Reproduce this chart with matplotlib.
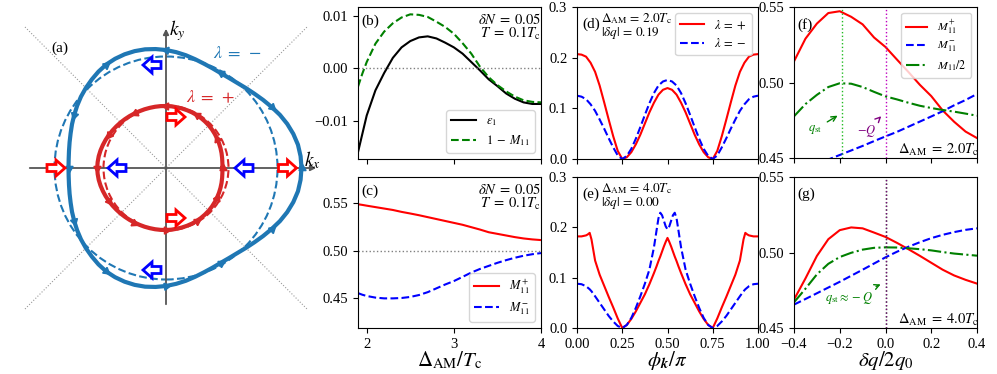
import numpy as np
import matplotlib.pyplot as plt
from matplotlib.patches import Circle, FancyArrow

plt.rcParams['font.family'] = 'serif'
plt.rcParams['font.serif'] = ['Liberation Serif', 'DejaVu Serif']
plt.rcParams['mathtext.fontset'] = 'stix'
plt.rcParams['font.size'] = 10.5

# ---------------- data ----------------
# (a) Fermi contours: radius vs polar angle (deg), units of 100 px
phi_deg = np.arange(0, 360, 5)
r_minus = [1.355, 1.351, 1.34, 1.318, 1.29, 1.257, 1.22, 1.186, 1.155, 1.13,
           1.11, 1.099, 1.095, 1.10, 1.11, 1.126, 1.145, 1.163, 1.18, 1.194,
           1.205, 1.21, 1.21, 1.205, 1.195, 1.177, 1.155, 1.133, 1.11, 1.085,
           1.06, 1.037, 1.015, 0.998, 0.985, 0.977, 0.975, 0.977, 0.985, 0.998,
           1.015, 1.037, 1.06, 1.085, 1.11, 1.133, 1.155, 1.177, 1.195, 1.205,
           1.21, 1.21, 1.205, 1.194, 1.18, 1.163, 1.145, 1.126, 1.11, 1.10,
           1.095, 1.099, 1.11, 1.13, 1.155, 1.186, 1.22, 1.257, 1.29, 1.318,
           1.34, 1.351]
r_plus = [0.565, 0.566, 0.57, 0.575, 0.58, 0.585, 0.59, 0.595, 0.60, 0.604,
          0.607, 0.61, 0.612, 0.614, 0.615, 0.616, 0.617, 0.619, 0.62, 0.621,
          0.622, 0.623, 0.625, 0.627, 0.63, 0.634, 0.638, 0.643, 0.648, 0.654,
          0.66, 0.666, 0.672, 0.678, 0.683, 0.686, 0.688, 0.686, 0.683, 0.678,
          0.672, 0.666, 0.66, 0.654, 0.648, 0.643, 0.638, 0.634, 0.63, 0.627,
          0.625, 0.623, 0.622, 0.621, 0.62, 0.619, 0.617, 0.616, 0.615, 0.614,
          0.612, 0.61, 0.607, 0.604, 0.60, 0.595, 0.59, 0.585, 0.58, 0.575,
          0.57, 0.566]
r_circle_minus = 1.115
r_circle_plus = 0.625
# arrow heads on contours: angle -> direction (+1 ccw, -1 cw)
arrows_minus = {0: 1, 30: -1, 60: 1, 90: 1, 120: -1, 150: 1, 180: 1,
                210: 1, 240: 1, 270: 1, 300: 1, 330: 1}
arrows_plus = {0: 1, 30: 1, 60: 1, 90: 1, 120: 1, 150: 1, 180: 1,
               210: 1, 240: 1, 270: 1, 300: 1, 330: 1}
# hollow arrows (center x, center y)
hollow_red = [(-1.10, 0.0), (0.10, 0.51), (0.10, -0.50), (1.215, 0.0)]
hollow_blue = [(-0.14, 1.03), (-0.49, 0.0), (0.78, 0.0), (-0.14, -1.02)]

# (b), (c) vs Delta_AM / Tc
dam = [1.9, 1.95, 2.0, 2.1, 2.2, 2.3, 2.4, 2.5, 2.6, 2.7, 2.8, 2.9, 3.0,
       3.1, 3.2, 3.3, 3.4, 3.5, 3.6, 3.7, 3.8, 3.9, 4.0]
eps1 = [-0.0160, -0.0125, -0.0090, -0.0042, -0.0009, 0.0020, 0.0040, 0.0052,
        0.0059, 0.0061, 0.0057, 0.0049, 0.0040, 0.0028, 0.0012, -0.0004,
        -0.0021, -0.0034, -0.0048, -0.0058, -0.0065, -0.0068, -0.0068]
one_m11 = [-0.0035, -0.0010, 0.0012, 0.0047, 0.0070, 0.0086, 0.0097, 0.0103,
           0.0102, 0.0098, 0.0089, 0.0079, 0.0066, 0.0048, 0.0028, 0.0003,
           -0.0017, -0.0032, -0.0044, -0.0054, -0.0061, -0.0064, -0.0065]
m11p_c = [0.5485, 0.5478, 0.5470, 0.5455, 0.5440, 0.5425, 0.5405, 0.5388,
          0.5370, 0.5350, 0.5330, 0.5310, 0.5290, 0.5270, 0.5245, 0.5220,
          0.5192, 0.5175, 0.5158, 0.5141, 0.5127, 0.5117, 0.5110]
m11m_c = [0.4555, 0.4538, 0.4525, 0.4508, 0.4500, 0.4500, 0.4504, 0.4515,
          0.4535, 0.4565, 0.4605, 0.4645, 0.4681, 0.4725, 0.4770, 0.4808,
          0.4840, 0.4872, 0.4900, 0.4925, 0.4946, 0.4962, 0.4974]

# (d) phi_k / pi, Delta_AM = 2.0 Tc
phi_d = np.linspace(0, 1, 41)
d_plus = [0.207, 0.206, 0.202, 0.190, 0.172, 0.145, 0.112, 0.078, 0.045, 0.016,
          0.000, 0.0034, 0.0134, 0.0289, 0.048, 0.070, 0.092, 0.111, 0.127,
          0.1366, 0.140, 0.1366, 0.127, 0.111, 0.092, 0.070, 0.048, 0.0289,
          0.0134, 0.0034, 0.000, 0.016, 0.045, 0.078, 0.112, 0.145, 0.172,
          0.190, 0.202, 0.206, 0.207]
d_minus = [0.125, 0.123, 0.118, 0.108, 0.095, 0.078, 0.060, 0.041, 0.023, 0.007,
           0.000, 0.006, 0.020, 0.040, 0.063, 0.087, 0.110, 0.130, 0.145,
           0.153, 0.156, 0.153, 0.145, 0.130, 0.110, 0.087, 0.063, 0.040,
           0.020, 0.006, 0.000, 0.007, 0.023, 0.041, 0.060, 0.078, 0.095,
           0.108, 0.118, 0.123, 0.125]

# (e) phi_k / pi, Delta_AM = 4.0 Tc
phi_e = [0, 0.025, 0.05, 0.06, 0.07, 0.08, 0.1, 0.125, 0.15, 0.175, 0.2, 0.225,
         0.25, 0.275, 0.3, 0.325, 0.35, 0.375, 0.4, 0.425, 0.44, 0.45, 0.46,
         0.47, 0.48, 0.49, 0.5, 0.51, 0.52, 0.53, 0.54, 0.55, 0.56, 0.575, 0.6,
         0.625, 0.65, 0.675, 0.7, 0.725, 0.75, 0.775, 0.8, 0.825, 0.85, 0.875,
         0.9, 0.92, 0.93, 0.94, 0.95, 0.975, 1.0]
e_plus = [0.182, 0.182, 0.184, 0.186, 0.189, 0.176, 0.134, 0.106, 0.084, 0.062,
          0.041, 0.019, 0.000, 0.006, 0.018, 0.033, 0.050, 0.067, 0.087, 0.109,
          0.123, 0.133, 0.142, 0.152, 0.162, 0.171, 0.179, 0.171, 0.162, 0.152,
          0.142, 0.133, 0.123, 0.109, 0.087, 0.067, 0.050, 0.033, 0.018, 0.006,
          0.000, 0.019, 0.041, 0.062, 0.084, 0.106, 0.134, 0.176, 0.189, 0.186,
          0.184, 0.182, 0.182]
e_minus = [0.088, 0.087, 0.083, 0.080, 0.077, 0.073, 0.063, 0.050, 0.037, 0.024,
           0.013, 0.004, 0.000, 0.006, 0.020, 0.040, 0.063, 0.088, 0.116, 0.160,
           0.195, 0.218, 0.229, 0.224, 0.213, 0.202, 0.196, 0.202, 0.213, 0.224,
           0.229, 0.218, 0.195, 0.160, 0.116, 0.088, 0.063, 0.040, 0.020, 0.006,
           0.000, 0.004, 0.013, 0.024, 0.037, 0.050, 0.063, 0.073, 0.077, 0.080,
           0.083, 0.087, 0.088]

# (f), (g) vs dq / 2q0
dq = np.linspace(-0.4, 0.4, 17)
f_plus = [0.514, 0.529, 0.539, 0.546, 0.5472, 0.5435, 0.5385, 0.5298, 0.5235,
          0.5152, 0.507, 0.4985, 0.491, 0.4815, 0.474, 0.4675, 0.4632]
f_minus = [0.442, 0.444, 0.4462, 0.449, 0.452, 0.455, 0.458, 0.4612, 0.4643,
           0.4673, 0.4707, 0.4741, 0.4775, 0.481, 0.4849, 0.4884, 0.4924]
f_half = [0.4776, 0.4857, 0.4918, 0.4970, 0.4995, 0.4992, 0.4970, 0.4938,
          0.4908, 0.4888, 0.4866, 0.4846, 0.4831, 0.4818, 0.4807, 0.4794, 0.4780]
g_plus = [0.4688, 0.4828, 0.4977, 0.5088, 0.5148, 0.5166, 0.5160, 0.5132,
          0.5103, 0.5064, 0.5022, 0.4978, 0.4932, 0.4886, 0.4848, 0.4819, 0.4794]
g_minus = [0.4655, 0.4692, 0.4730, 0.4768, 0.4806, 0.4846, 0.4886, 0.4927,
           0.4968, 0.5005, 0.5038, 0.5068, 0.5095, 0.5117, 0.5135, 0.5150, 0.5160]
g_half = [0.4670, 0.4760, 0.4855, 0.4925, 0.4970, 0.4998, 0.5019, 0.5031,
          0.5034, 0.5033, 0.5028, 0.5022, 0.5014, 0.5003, 0.4993, 0.4986, 0.4979]
q_st_f = -0.19
q_st_g = 0.0
minus_Q = 0.0

# ---------------- figure ----------------
W, H = 997, 374
fig = plt.figure(figsize=(W / 100, H / 100), dpi=100)


def add_ax(l, r, t, b):
    return fig.add_axes([l / W, 1 - b / H, (r - l) / W, (b - t) / H])


# ---- (a) ----
ax = add_ax(16, 326, 20, 330)
ax.set_xlim(-1.5, 1.6)
ax.set_ylim(-1.62, 1.48)
ax.axis('off')
guide = 1.41
ax.plot([-guide, guide], [-guide, guide], ls=':', color='#999999', lw=0.8)
ax.plot([-guide, guide], [guide, -guide], ls=':', color='#999999', lw=0.8)
ax.annotate('', xy=(1.53, 0), xytext=(-1.39, 0),
            arrowprops=dict(arrowstyle='-|>', color='#555555', lw=1.3, mutation_scale=8))
ax.annotate('', xy=(0, 1.42), xytext=(0, -1.39),
            arrowprops=dict(arrowstyle='-|>', color='#555555', lw=1.3, mutation_scale=8))
ax.text(0.11, 1.37, r'$k_y$', fontsize=14, ha='center', va='center')
ax.text(1.46, 0.08, r'$k_x$', fontsize=14, ha='center', va='center')
ax.text(-1.06, 1.20, '(a)', fontsize=11, ha='center', va='center')

th = np.deg2rad(phi_deg)
for r, circ_r, col, arr in [(r_minus, r_circle_minus, '#1f77b4', arrows_minus),
                             (r_plus, r_circle_plus, '#d62728', arrows_plus)]:
    r = np.array(r)
    x = np.append(r * np.cos(th), r[0])
    y = np.append(r * np.sin(th), 0)
    ax.add_patch(Circle((0, 0), circ_r, fill=False, ls='--', color=col, lw=1.5, zorder=2))
    ax.plot(x, y, color=col, lw=3, zorder=3, solid_joinstyle='round')
    n = len(r)
    for ang, sgn in arr.items():
        i = list(phi_deg).index(ang)
        tx = x[(i + 1) % n] - x[(i - 1) % n]
        ty = y[(i + 1) % n] - y[(i - 1) % n]
        rot = np.degrees(np.arctan2(sgn * ty, sgn * tx)) - 90
        ax.plot(x[i], y[i], marker=(3, 0, rot), color=col, ms=6, zorder=3)

for cx, cy in hollow_red:
    ax.add_patch(FancyArrow(cx - 0.09, cy, 0.18, 0, width=0.07, head_width=0.16,
                            head_length=0.09, length_includes_head=True,
                            fc='white', ec='red', lw=2, zorder=4))
for cx, cy in hollow_blue:
    ax.add_patch(FancyArrow(cx + 0.09, cy, -0.18, 0, width=0.07, head_width=0.16,
                            head_length=0.09, length_includes_head=True,
                            fc='white', ec='blue', lw=2, zorder=4))
ax.text(0.71, 1.15, r'$\lambda\;=\;-$', color='#1f77b4', fontsize=13, ha='center', va='center')
ax.text(0.45, 0.70, r'$\lambda\;=\;+$', color='#d62728', fontsize=13, ha='center', va='center')

params = r'$\delta N\;=\;0.05$' + '\n' + r'$T\;=\;0.1T_{\rm c}$'

# ---- (b) ----
ax = add_ax(358, 541, 7, 159)
ax.plot(dam, eps1, color='k', lw=1.5, label=r'$\epsilon_1$')
ax.plot(dam, one_m11, color='green', ls='--', lw=1.5, label=r'$1\;-\;M_{11}$')
ax.axhline(0, color='gray', ls=':', lw=1)
ax.set_xlim(1.9, 4.0)
ax.set_ylim(-0.0173, 0.0117)
ax.set_xticks([2, 3, 4])
ax.set_xticklabels([])
ax.set_yticks([-0.01, 0.0, 0.01])
ax.set_yticklabels(['\u22120.01', '0.00', '0.01'])
ax.text(0.02, 0.95, '(b)', transform=ax.transAxes, fontsize=11, va='top')
ax.text(1.0, 0.97, params, transform=ax.transAxes, fontsize=10.5, ha='right', va='top',
        linespacing=0.85)
ax.legend(loc='lower right', fontsize=9, labelspacing=0.4)

# ---- (c) ----
ax = add_ax(358, 541, 177, 328)
ax.plot(dam, m11p_c, color='red', lw=1.5, label=r'$M_{11}^{+}$')
ax.plot(dam, m11m_c, color='blue', ls='--', lw=1.5, label=r'$M_{11}^{-}$')
ax.axhline(0.5, color='gray', ls=':', lw=1)
ax.set_xlim(1.9, 4.0)
ax.set_ylim(0.419, 0.577)
ax.set_xticks([2, 3, 4])
ax.set_yticks([0.45, 0.50, 0.55])
ax.set_yticklabels(['0.45', '0.50', '0.55'])
ax.set_xlabel(r'$\Delta_{\rm AM}/T_{\rm c}$', fontsize=15, labelpad=-1)
ax.text(0.02, 0.95, '(c)', transform=ax.transAxes, fontsize=11, va='top')
ax.text(1.0, 0.97, params, transform=ax.transAxes, fontsize=10.5, ha='right', va='top',
        linespacing=0.85)
ax.legend(loc='lower right', fontsize=9, labelspacing=0.3)

# ---- (d) ----
ax = add_ax(577, 758, 7, 159)
ax.plot(phi_d, d_plus, color='red', lw=1.5, label=r'$\lambda\,=\,+$')
ax.plot(phi_d, d_minus, color='blue', ls='--', lw=1.5, label=r'$\lambda\,=\,-$')
ax.set_xlim(0, 1)
ax.set_ylim(0, 0.3)
ax.set_xticks([0, 0.25, 0.5, 0.75, 1.0])
ax.set_xticklabels([])
ax.set_yticks([0, 0.1, 0.2, 0.3])
ax.set_yticklabels(['0.0', '0.1', '0.2', '0.3'])
ax.text(0.03, 0.93, '(d)', transform=ax.transAxes, fontsize=11, va='top')
ax.text(0.13, 0.97, r'$\Delta_{\rm AM}\,=\,2.0T_{\rm c}$' + '\n' + r'$|\delta q|\,=\,0.19$',
        transform=ax.transAxes, fontsize=9.5, va='top', linespacing=0.85)
ax.legend(loc='upper right', fontsize=9, handlelength=1.9)

# ---- (e) ----
ax = add_ax(577, 758, 177, 328)
ax.plot(phi_e, e_plus, color='red', lw=1.5)
ax.plot(phi_e, e_minus, color='blue', ls='--', lw=1.5)
ax.set_xlim(0, 1)
ax.set_ylim(0, 0.3)
ax.set_xticks([0, 0.25, 0.5, 0.75, 1.0])
ax.set_xticklabels(['0.00', '0.25', '0.50', '0.75', '1.00'])
ax.set_yticks([0, 0.1, 0.2, 0.3])
ax.set_yticklabels(['0.0', '0.1', '0.2', '0.3'])
ax.set_xlabel(r'$\phi_{\boldsymbol{k}}/\pi$', fontsize=15, labelpad=-1)
ax.text(0.03, 0.93, '(e)', transform=ax.transAxes, fontsize=11, va='top')
ax.text(0.13, 0.97, r'$\Delta_{\rm AM}\,=\,4.0T_{\rm c}$' + '\n' + r'$|\delta q|\,=\,0.00$',
        transform=ax.transAxes, fontsize=9.5, va='top', linespacing=0.85)

# ---- (f) ----
ax = add_ax(794, 977, 7, 158)
ax.plot(dq, f_plus, color='red', lw=1.5, label=r'$M_{11}^{+}$')
ax.plot(dq, f_minus, color='blue', ls='--', lw=1.5, label=r'$M_{11}^{-}$')
ax.plot(dq, f_half, color='green', ls='-.', lw=1.5, label=r'$M_{11}/2$')
ax.axvline(q_st_f, color='#22bb22', ls=':', lw=1)
ax.axvline(minus_Q, color='m', ls=':', lw=1)
ax.set_xlim(-0.4, 0.4)
ax.set_ylim(0.45, 0.55)
ax.set_xticks([-0.4, -0.2, 0, 0.2, 0.4])
ax.set_xticklabels([])
ax.set_yticks([0.45, 0.50, 0.55])
ax.set_yticklabels(['0.45', '0.50', '0.55'])
ax.text(0.02, 0.93, '(f)', transform=ax.transAxes, fontsize=11, va='top')
ax.annotate(r'$q_{\rm st}$', xy=(-0.199, 0.479), xytext=(-0.308, 0.469), color='green',
            fontsize=9, ha='center', va='center',
            arrowprops=dict(arrowstyle='->', color='green', lw=1))
ax.annotate(r'$-Q$', xy=(-0.01, 0.479), xytext=(-0.082, 0.468), color='purple',
            fontsize=9, ha='center', va='center',
            arrowprops=dict(arrowstyle='->', color='purple', lw=1))
ax.text(1.01, 0.0, r'$\Delta_{\rm AM}\;=\;2.0T_{\rm c}$', transform=ax.transAxes,
        fontsize=10.5, ha='right', va='bottom')
ax.legend(loc='upper right', fontsize=8.5, handlelength=1.8, labelspacing=0.35)

# ---- (g) ----
ax = add_ax(794, 977, 177, 328)
ax.plot(dq, g_plus, color='red', lw=1.5)
ax.plot(dq, g_minus, color='blue', ls='--', lw=1.5)
ax.plot(dq, g_half, color='green', ls='-.', lw=1.5)
ax.axvline(q_st_g, color='green', ls=':', lw=1)
ax.axvline(minus_Q, color='purple', ls=':', lw=1)
ax.set_xlim(-0.4, 0.4)
ax.set_ylim(0.45, 0.55)
ax.set_xticks([-0.4, -0.2, 0, 0.2, 0.4])
ax.set_xticklabels(['\u22120.4', '\u22120.2', '0.0', '0.2', '0.4'])
ax.set_yticks([0.45, 0.50, 0.55])
ax.set_yticklabels(['0.45', '0.50', '0.55'])
ax.set_xlabel(r'$\delta q/2q_0$', fontsize=15, labelpad=-1)
ax.text(0.02, 0.93, '(g)', transform=ax.transAxes, fontsize=11, va='top')
ax.annotate(r'$q_{\rm st}\approx -Q$', xy=(-0.01, 0.4796), xytext=(-0.162, 0.4697),
            color='green', fontsize=9, ha='center', va='center',
            arrowprops=dict(arrowstyle='->', color='green', lw=1))
ax.text(1.01, 0.0, r'$\Delta_{\rm AM}\;=\;4.0T_{\rm c}$', transform=ax.transAxes,
        fontsize=10.5, ha='right', va='bottom')

plt.savefig('out.png', dpi=100)
